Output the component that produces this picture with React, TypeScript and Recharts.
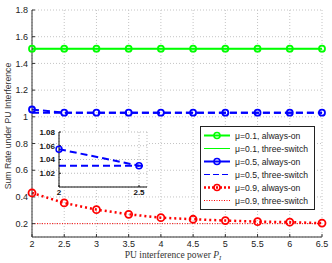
import { Label, Line, LineChart, CartesianGrid, ReferenceLine, XAxis, YAxis } from "recharts";

const powerLevels = [2, 2.5, 3, 3.5, 4, 4.5, 5, 5.5, 6, 6.5];
const mu01AlwaysOn = [1.51, 1.51, 1.51, 1.51, 1.51, 1.51, 1.51, 1.51, 1.51, 1.51];
const mu01ThreeSwitch = [1.51, 1.51, 1.51, 1.51, 1.51, 1.51, 1.51, 1.51, 1.51, 1.51];
const mu05AlwaysOn = [1.055, 1.031, 1.031, 1.031, 1.031, 1.031, 1.031, 1.031, 1.031, 1.031];
const mu05ThreeSwitch = [1.031, 1.031, 1.031, 1.031, 1.031, 1.031, 1.031, 1.031, 1.031, 1.031];
const mu09AlwaysOn = [0.43, 0.355, 0.305, 0.27, 0.245, 0.233, 0.223, 0.215, 0.211, 0.204];
const mu09ThreeSwitch = [0.2, 0.2, 0.2, 0.2, 0.2, 0.2, 0.2, 0.2, 0.2, 0.2];

const xTicks = [2, 2.5, 3, 3.5, 4, 4.5, 5, 5.5, 6, 6.5];
const yTicks = [0.2, 0.4, 0.6, 0.8, 1, 1.2, 1.4, 1.6, 1.8];
const insetXTicks = [2, 2.5];
const insetYTicks = [1.02, 1.04, 1.06, 1.08];

const legendItems = [
  { label: "μ=0.1, always-on", color: "#00ff00", width: 2, dash: "", marker: true },
  { label: "μ=0.1, three-switch", color: "#00ff00", width: 1, dash: "", marker: false },
  { label: "μ=0.5, always-on", color: "#0000ff", width: 2, dash: "", marker: true },
  { label: "μ=0.5, three-switch", color: "#0000ff", width: 1, dash: "6 3", marker: false },
  { label: "μ=0.9, always-on", color: "#ff0000", width: 2.5, dash: "2 2", marker: true },
  { label: "μ=0.9, three-switch", color: "#ff0000", width: 1, dash: "1 1.5", marker: false },
];

const rows = powerLevels.map((p, i) => ({
  p,
  g1: mu01AlwaysOn[i],
  g2: mu01ThreeSwitch[i],
  b1: mu05AlwaysOn[i],
  b2: mu05ThreeSwitch[i],
  r1: mu09AlwaysOn[i],
  r2: mu09ThreeSwitch[i],
}));

const sans = "'Liberation Sans', Arial, sans-serif";
const axisColor = "#333";
const tickStyle = { fontSize: 9, fill: "#222", fontFamily: sans };
const insetTick = { fontSize: 8, fontWeight: "bold", fill: "#111", fontFamily: sans };
const blank = () => "";

function Legend() {
  return (
    <div
      style={{
        position: "absolute",
        left: 200,
        top: 126,
        width: 113,
        height: 80,
        border: "1px solid #222",
        background: "#fff",
        fontFamily: sans,
        fontSize: 8.6,
        color: "#222",
        paddingTop: 2,
        boxSizing: "content-box",
      }}
    >
      {legendItems.map((it) => (
        <div key={it.label} style={{ display: "flex", alignItems: "center", height: 13 }}>
          <svg width={34} height={13} style={{ flex: "none" }}>
            <line
              x1={3}
              x2={29}
              y1={6.5}
              y2={6.5}
              stroke={it.color}
              strokeWidth={it.width}
              strokeDasharray={it.dash || undefined}
            />
            {it.marker ? (
              <circle cx={16} cy={6.5} r={3} fill="none" stroke={it.color} strokeWidth={1.6} />
            ) : null}
          </svg>
          <span style={{ whiteSpace: "nowrap" }}>{it.label}</span>
        </div>
      ))}
    </div>
  );
}

function Inset() {
  const insetRows = rows.slice(0, 3);
  return (
    <div style={{ position: "absolute", left: 30, top: 124 }}>
      <LineChart width={120} height={76} data={insetRows} margin={{ top: 8, right: 3, left: 0, bottom: 0 }}>
        <CartesianGrid stroke="#bbb" strokeDasharray="1 2" fill="#fff" />
        <XAxis
          dataKey="p"
          type="number"
          domain={[2, 2.55]}
          ticks={insetXTicks}
          interval={0}
          allowDataOverflow
          height={13}
          stroke="#111"
          tickSize={-2}
          tickMargin={4}
          tick={insetTick}
        />
        <XAxis xAxisId="top" orientation="top" dataKey="p" type="number" domain={[2, 2.55]} ticks={insetXTicks} interval={0} height={0} stroke="#111" tickSize={-2} tickFormatter={blank} />
        <YAxis
          type="number"
          domain={[1.0, 1.08]}
          ticks={insetYTicks}
          interval={0}
          allowDataOverflow
          width={29}
          stroke="#111"
          tickSize={-2}
          tickFormatter={blank}
        />
        <YAxis yAxisId="right" orientation="right" type="number" domain={[1.0, 1.08]} ticks={insetYTicks} interval={0} width={0} stroke="#111" tickSize={-2} tickFormatter={blank} />
        {/* inset y labels hung on invisible reference lines */}
        {insetYTicks.map((v) => (
          <ReferenceLine
            key={v}
            y={v}
            strokeOpacity={0}
            label={{ value: v.toFixed(2), position: "left", offset: 4, ...insetTick }}
          />
        ))}
        <Line
          data={rows.slice(0, 2)}
          dataKey="b1"
          stroke="#0000ff"
          strokeWidth={2}
          strokeDasharray="7 4"
          dot={{ r: 3, fill: "none", stroke: "#0000ff", strokeWidth: 1.6, strokeDasharray: "", clipDot: false }}
          isAnimationActive={false}
        />
        <Line dataKey="b2" stroke="#0000ff" strokeWidth={2} strokeDasharray="7 4" dot={false} isAnimationActive={false} />
      </LineChart>
    </div>
  );
}

export default function App() {
  return (
    <div style={{ position: "absolute", left: 0, top: 0, width: 332, height: 263, background: "#fff" }}>
      <LineChart width={332} height={263} data={rows} margin={{ top: 10, right: 10, left: 0, bottom: 0 }}>
        <CartesianGrid stroke="#c4c4c4" strokeDasharray="1 2" />
        <XAxis
          dataKey="p"
          type="number"
          domain={[2, 6.5]}
          ticks={xTicks}
          interval={0}
          height={26}
          stroke={axisColor}
          tickSize={-3}
          tickMargin={7}
          tick={tickStyle}
        >
          <Label
            content={() => (
              <text x={173} y={258} textAnchor="middle" fontFamily="'Liberation Serif', 'Times New Roman', serif" fontSize={9.5} fill="#333">
                <tspan>PU interference power </tspan>
                <tspan fontStyle="italic">P</tspan>
                <tspan fontStyle="italic" fontSize={6.5} dy={2}>I</tspan>
              </text>
            )}
          />
        </XAxis>
        <XAxis xAxisId="top" orientation="top" dataKey="p" type="number" domain={[2, 6.5]} ticks={xTicks} interval={0} height={0} stroke="#666" tickSize={-3} tickFormatter={blank} />
        <YAxis
          type="number"
          domain={[0.1, 1.8]}
          ticks={yTicks}
          interval={0}
          width={32}
          stroke={axisColor}
          tickSize={-3}
          tickMargin={7}
          tick={tickStyle}
        >
          <Label
            content={() => (
              <text
                x={8}
                y={126}
                transform="rotate(-90, 8, 126)"
                textAnchor="middle"
                dominantBaseline="central"
                fontFamily={sans}
                fontSize={8.7}
                fill="#333"
              >
                Sum Rate under PU Interference
              </text>
            )}
          />
        </YAxis>
        <YAxis yAxisId="right" orientation="right" type="number" domain={[0.1, 1.8]} ticks={yTicks} interval={0} width={0} stroke="#666" tickSize={-3} tickFormatter={blank} />
        <Line dataKey="g2" stroke="#00ff00" strokeWidth={1} dot={false} isAnimationActive={false} />
        <Line
          dataKey="g1"
          stroke="#00ff00"
          strokeWidth={2}
          dot={{ r: 3, fill: "none", stroke: "#00ff00", strokeWidth: 1.8 }}
          isAnimationActive={false}
        />
        <Line dataKey="b2" stroke="#0000ff" strokeWidth={2} strokeDasharray="7 4" dot={false} isAnimationActive={false} />
        <Line
          dataKey="b1"
          stroke="#0000ff"
          strokeWidth={2}
          strokeDasharray="7 4"
          dot={{ r: 3, fill: "none", stroke: "#0000ff", strokeWidth: 1.8, strokeDasharray: "" }}
          isAnimationActive={false}
        />
        <Line dataKey="r2" stroke="#ff0000" strokeWidth={1} strokeDasharray="1 1.5" dot={false} isAnimationActive={false} />
        <Line
          dataKey="r1"
          stroke="#ff0000"
          strokeWidth={2.5}
          strokeDasharray="2 3"
          dot={{ r: 3.5, fill: "none", stroke: "#ff0000", strokeWidth: 1.8, strokeDasharray: "" }}
          isAnimationActive={false}
        />
      </LineChart>
      <Inset />
      <Legend />
    </div>
  );
}
